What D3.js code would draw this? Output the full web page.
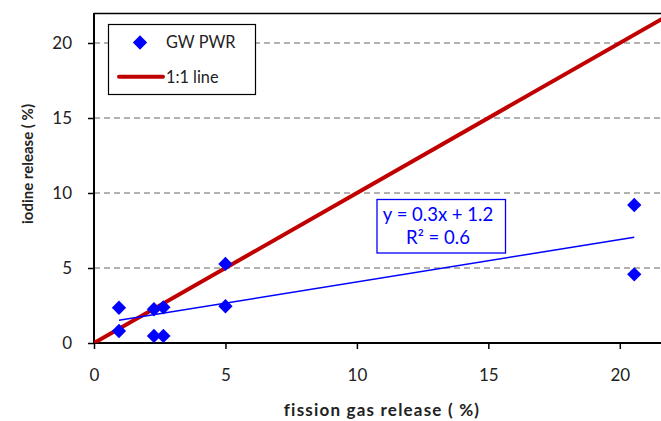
<!DOCTYPE html>
<html>
<head>
<meta charset="utf-8">
<script src="https://cdn.jsdelivr.net/npm/d3@7"></script>
<style>
  html, body { margin: 0; padding: 0; background: #fff; }
  svg text { font-family: Lato, "Open Sans", sans-serif; }
</style>
</head>
<body>
<svg id="chart" width="661" height="421"></svg>
<script>
// Fission gas release vs iodine release (%), GW PWR rods
const fgr = [0.95, 0.95, 2.28, 2.64, 2.28, 2.64, 5.0, 5.0, 20.55, 20.55];
const iodine = [2.35, 0.8, 2.25, 2.38, 0.47, 0.47, 5.27, 2.45, 4.58, 9.2];
const xTicks = [0, 5, 10, 15, 20];
const yTicks = [0, 5, 10, 15, 20];
const seriesName = "GW PWR";
const refLineName = "1:1 line";

const svg = d3.select("#chart");
const plotLeft = 94, plotBottom = 343, plotTop = 13, plotRight = 661;
const x = d3.scaleLinear().domain([0, 22]).range([plotLeft, plotLeft + 22 * 26.29]);
const y = d3.scaleLinear().domain([0, 22]).range([plotBottom, plotTop]);

svg.append("rect").attr("width", 661).attr("height", 421).attr("fill", "#fff");

svg.append("defs").append("clipPath").attr("id", "plotClip")
  .append("rect").attr("x", plotLeft).attr("y", plotTop)
  .attr("width", plotRight - plotLeft).attr("height", plotBottom - plotTop);

// dashed horizontal gridlines
svg.append("g").selectAll("line").data(yTicks.filter(d => d > 0)).join("line")
  .attr("x1", plotLeft).attr("x2", plotRight)
  .attr("y1", d => y(d)).attr("y2", d => y(d))
  .attr("stroke", "#999").attr("stroke-width", 1.5).attr("stroke-dasharray", "6,4");

// top border of plot area
svg.append("line").attr("x1", plotLeft).attr("x2", plotRight)
  .attr("y1", plotTop + 0.5).attr("y2", plotTop + 0.5)
  .attr("stroke", "#000").attr("stroke-width", 1.3);

// axes
const xAxis = d3.axisBottom(x).tickValues(xTicks).tickSize(6).tickFormat(d3.format("d"));
const yAxis = d3.axisLeft(y).tickValues(yTicks).tickSize(6).tickPadding(16).tickFormat(d3.format("d"));

const gx = svg.append("g").attr("transform", `translate(0,${plotBottom})`).call(xAxis);
gx.select(".domain").attr("d", `M${plotLeft},0H${plotRight}`).attr("stroke-width", 2);
gx.selectAll(".tick text").attr("y", 37.5).attr("dy", null);
const gy = svg.append("g").attr("transform", `translate(${plotLeft},0)`).call(yAxis);
gy.select(".domain").attr("d", `M0,${plotTop}V${plotBottom}`).attr("stroke-width", 2);
[gx, gy].forEach(g => {
  g.selectAll(".tick line").attr("stroke", "#000").attr("stroke-width", 1.5);
  g.selectAll(".tick text").attr("font-size", 17).attr("fill", "#222")
    .style("font-family", "Lato, 'Open Sans', sans-serif");
});

const plot = svg.append("g").attr("clip-path", "url(#plotClip)");

// least-squares fit of iodine on fission gas release
const n = fgr.length;
const mx = d3.mean(fgr), my = d3.mean(iodine);
let sxx = 0, sxy = 0, syy = 0;
for (let i = 0; i < n; i++) {
  sxx += (fgr[i] - mx) ** 2;
  sxy += (fgr[i] - mx) * (iodine[i] - my);
  syy += (iodine[i] - my) ** 2;
}
const slope = sxy / sxx, intercept = my - slope * mx;
const r2 = (sxy * sxy) / (sxx * syy);
const [xmin, xmax] = d3.extent(fgr);

// 1:1 reference line
plot.append("line")
  .attr("x1", x(0)).attr("y1", y(0)).attr("x2", x(22)).attr("y2", y(22))
  .attr("stroke", "#C00000").attr("stroke-width", 4);

// trend line
plot.append("line")
  .attr("x1", x(xmin)).attr("y1", y(slope * xmin + intercept))
  .attr("x2", x(xmax)).attr("y2", y(slope * xmax + intercept))
  .attr("stroke", "#0000FF").attr("stroke-width", 1.5);

// data points (diamonds)
const diamond = d3.symbol().type(d3.symbolSquare).size(102);
svg.append("g").selectAll("path").data(fgr.map((v, i) => [v, iodine[i]])).join("path")
  .attr("d", diamond)
  .attr("transform", d => `translate(${x(d[0])},${y(d[1])}) rotate(45)`)
  .attr("fill", "#0000FF");

// regression label
const eqBox = svg.append("g");
eqBox.append("rect").attr("x", 377).attr("y", 199.5).attr("width", 128.5).attr("height", 53.5)
  .attr("fill", "#fff").attr("stroke", "#0000FF").attr("stroke-width", 1.3);
eqBox.append("text").attr("x", 438).attr("y", 220.5).attr("text-anchor", "middle")
  .attr("font-size", 18.5).attr("fill", "#0000FF")
  .text(`y = ${d3.format(".1f")(slope)}x + ${d3.format(".1f")(intercept)}`);
eqBox.append("text").attr("x", 438).attr("y", 243.5).attr("text-anchor", "middle")
  .attr("font-size", 18.5).attr("fill", "#0000FF")
  .text(`R² = ${d3.format(".1f")(r2)}`);

// legend
const lg = svg.append("g");
lg.append("rect").attr("x", 108.5).attr("y", 24.5).attr("width", 147).attr("height", 70)
  .attr("fill", "#fff").attr("stroke", "#000").attr("stroke-width", 1.2);
lg.append("path").attr("d", diamond).attr("transform", "translate(140,42.5) rotate(45)").attr("fill", "#0000FF");
lg.append("text").attr("x", 166).attr("y", 48.3).attr("font-size", 16.3).attr("fill", "#222").text(seriesName);
lg.append("line").attr("x1", 119).attr("x2", 163).attr("y1", 76.7).attr("y2", 76.7)
  .attr("stroke", "#C00000").attr("stroke-width", 4).attr("stroke-linecap", "round");
lg.append("text").attr("x", 166).attr("y", 82.7).attr("font-size", 16.3).attr("fill", "#222").text(refLineName);

// axis titles
svg.append("text").attr("x", 382).attr("y", 416).attr("text-anchor", "middle")
  .attr("font-size", 17).attr("font-weight", "bold").attr("fill", "#222")
  .attr("letter-spacing", 1.2)
  .text("fission gas release ( %)");
svg.append("text").attr("transform", "translate(33,164) rotate(-90)").attr("text-anchor", "middle")
  .attr("font-size", 15).attr("font-weight", "bold").attr("fill", "#222")
  .text("iodine release ( %)");
</script>
</body>
</html>
